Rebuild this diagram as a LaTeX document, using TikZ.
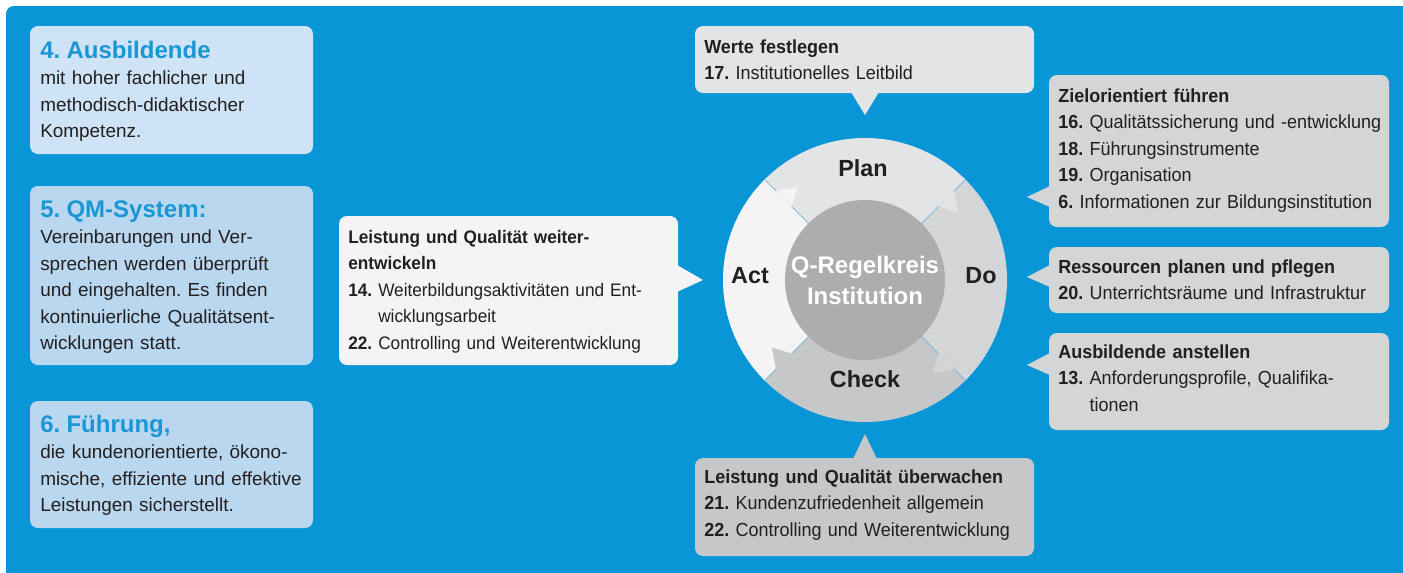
\documentclass[tikz,border=0pt]{standalone}
\usepackage{fontspec}
\setmainfont{Liberation Sans}
\newfontfamily\condfont{Liberation Sans}[FakeStretch=0.95, WordSpace=0.8]
\definecolor{bgblue}{RGB}{8,150,215}
\definecolor{boxA}{RGB}{206,227,245}
\definecolor{boxB}{RGB}{185,216,240}
\definecolor{titleblue}{RGB}{26,150,212}
\definecolor{actc}{RGB}{244,244,244}
\definecolor{planc}{RGB}{227,228,230}
\definecolor{doc}{RGB}{212,213,215}
\definecolor{checkc}{RGB}{198,199,201}
\definecolor{innerc}{RGB}{172,173,175}
\definecolor{txtdark}{RGB}{35,31,32}
\definecolor{seplight}{RGB}{90,176,224}
\newcommand\boxhead[1]{{\bfseries #1}}
\newcommand\itemnr[1]{{\bfseries #1}}
\newcommand\ltitle[1]{{\fontsize{18}{19.9}\selectfont\bfseries\color{titleblue}#1}}
\tikzset{
  txt/.style={anchor=base west, inner sep=0pt, text width=290pt, align=left,
    text=txtdark, font=\fontsize{14.2}{19.9}\selectfont\frenchspacing},
  ctxt/.style={txt, font=\condfont\fontsize{14.2}{19.9}\selectfont\frenchspacing},
  mtxt/.style={txt, font=\condfont\fontsize{13.6}{19.9}\selectfont\frenchspacing},
  callout/.style={rounded corners=6pt},
  ringlabel/.style={anchor=base, inner sep=0pt, text=txtdark,
    font=\fontsize{17.5}{20}\selectfont\bfseries},
  seg/.style={draw=seplight, line width=0.4pt}
}
\begin{document}
\begin{tikzpicture}[x=0.75pt,y=-0.75pt]
\useasboundingbox (0,0) rectangle (1403,572);
\fill[white] (0,0) rectangle (1403,572);
\fill[bgblue, rounded corners=6pt] (6,6) rectangle (1430,600);

% left boxes
\fill[boxA, callout] (30,26) rectangle (313,154);
\fill[boxB, callout] (30,186) rectangle (313,365);
\fill[boxB, callout] (30,401) rectangle (313,528);
\node[txt] (t4) at (40,58) {\ltitle{4. Ausbildende}\\mit hoher fachlicher und\\methodisch-didaktischer\\Kompetenz.};
\node[txt] (t5) at (40,217) {\ltitle{5. QM-System:}\\Vereinbarungen und Ver-\\sprechen werden überprüft\\und eingehalten. Es finden\\kontinuierliche Qualitätsent-\\wicklungen statt.};
\node[txt] (t6) at (40,432) {\ltitle{6. Führung,}\\die kundenorientierte, ökono-\\mische, effiziente und effektive\\Leistungen sicherstellt.};

% middle box (Act)
\fill[actc, callout] (339,216) rectangle (678,365);
\fill[actc] (677,265) -- (703,280) -- (677,292) -- cycle;
\node[mtxt] (tact) at (348,243) {\boxhead{Leistung und Qualität weiter-}\\\boxhead{entwickeln}\\\itemnr{14.} Weiterbildungsaktivitäten und Ent-\\\hphantom{\itemnr{14.} }wicklungsarbeit\\\itemnr{22.} Controlling und Weiterentwicklung};

% top box (Plan)
\fill[planc, callout] (695,26) rectangle (1034,93);
\fill[planc] (851,92) -- (865,115) -- (879,92) -- cycle;
\node[ctxt] (tplan) at (704,53) {\boxhead{Werte festlegen}\\\itemnr{17.} Institutionelles Leitbild};

% right boxes (Do)
\fill[doc, callout] (1049,75) rectangle (1389,227);
\fill[doc] (1050,186) -- (1027,197) -- (1050,207) -- cycle;
\node[ctxt] (tdo1) at (1058,102) {\boxhead{Zielorientiert führen}\\\itemnr{16.} Qualitätssicherung und -entwicklung\\\itemnr{18.} Führungsinstrumente\\\itemnr{19.} Organisation\\\itemnr{6.} Informationen zur Bildungsinstitution};

\fill[doc, callout] (1049,247) rectangle (1389,313);
\fill[doc] (1050,265) -- (1027,277) -- (1050,287) -- cycle;
\node[ctxt] (tdo2) at (1058,273) {\boxhead{Ressourcen planen und pflegen}\\\itemnr{20.} Unterrichtsräume und Infrastruktur};

\fill[doc, callout] (1049,333) rectangle (1389,430);
\fill[doc] (1050,353) -- (1027,365) -- (1050,375) -- cycle;
\node[ctxt] (tdo3) at (1058,358) {\boxhead{Ausbildende anstellen}\\\itemnr{13.} Anforderungsprofile, Qualifika-\\\hphantom{\itemnr{13.} }tionen};

% bottom box (Check)
\fill[checkc, callout] (695,458) rectangle (1034,556);
\fill[checkc] (853,459) -- (865,434) -- (877,459) -- cycle;
\node[ctxt] (tcheck) at (704,483) {\boxhead{Leistung und Qualität überwachen}\\\itemnr{21.} Kundenzufriedenheit allgemein\\\itemnr{22.} Controlling und Weiterentwicklung};

% ring
\begin{scope}[shift={(865,280)}]
  \begin{scope}
    \clip (0,0) circle (142);
    \fill[planc]  (0,0) -- (225:300) -- (270:300) -- (315:300) -- cycle;
    \fill[doc]    (0,0) -- (315:300) -- (0:300) -- (45:300) -- cycle;
    \fill[checkc] (0,0) -- (45:300) -- (90:300) -- (135:300) -- cycle;
    \fill[actc]   (0,0) -- (135:300) -- (180:300) -- (225:300) -- cycle;
  \end{scope}
  \fill[planc]  (315:104) -- (324:115) -- (315:126) -- cycle;
  \fill[doc]    (45:104) -- (54:115) -- (45:126) -- cycle;
  \fill[checkc] (135:104) -- (144:115) -- (135:126) -- cycle;
  \fill[actc]   (225:104) -- (234:115) -- (225:126) -- cycle;
  \foreach \a in {45,135,225,315}{
    \draw[seg] (\a:80) -- (\a:104) (\a:126) -- (\a:142);
  }
  \fill[innerc] (0,0) circle (80);
\end{scope}
\node[ringlabel] (plan) at (863,176) {Plan};
\node[ringlabel] (do) at (981,283) {Do};
\node[ringlabel] (check) at (865,387) {Check};
\node[ringlabel] (act) at (750,283) {Act};
\node[anchor=base, inner sep=0pt, text width=150pt, align=center, text=white,
  font=\fontsize{18}{23.3}\selectfont\bfseries] (center) at (865,273) {Q-Regelkreis\\Institution};
\end{tikzpicture}
\end{document}
